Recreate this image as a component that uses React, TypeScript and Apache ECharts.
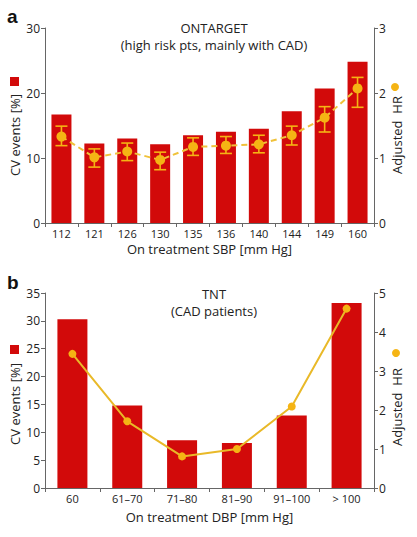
import React, { useEffect, useRef } from "react";
import * as echarts from "echarts";

// Panel a: ONTARGET
const sbpCategories = ["112", "121", "126", "130", "135", "136", "140", "144", "149", "160"];
const sbpEvents = [16.7, 12.25, 13.0, 12.1, 13.5, 14.05, 14.5, 17.2, 20.7, 24.8];
const sbpHR = [1.33, 1.01, 1.1, 0.97, 1.17, 1.19, 1.21, 1.35, 1.62, 2.07];
const sbpHRLow = [1.19, 0.86, 0.96, 0.82, 1.04, 1.07, 1.08, 1.2, 1.4, 1.78];
const sbpHRHigh = [1.49, 1.14, 1.23, 1.09, 1.31, 1.33, 1.35, 1.49, 1.79, 2.24];

// Panel b: TNT
const dbpCategories = ["60", "61\u201370", "71\u201380", "81\u201390", "91\u2013100", "> 100"];
const dbpEvents = [30.3, 14.8, 8.55, 8.08, 13.0, 33.2];
const dbpHR = [3.44, 1.71, 0.81, 1.0, 2.09, 4.6];

const FONT = "Open Sans";
const RED = "#d20a0a";
const GOLD = "#f5b414";
const GOLD_LINE = "#f0c23a";
const AXIS = "#666";
const TEXT = "#222";

export default function App() {
  const ref = useRef<HTMLDivElement>(null);
  useEffect(() => {
    document.body.style.margin = "0";
    const chart = echarts.init(ref.current!, undefined, { renderer: "svg" });
    const axisCommon = {
      axisLine: { show: true, lineStyle: { color: AXIS, width: 1 } },
      axisTick: { show: true, lineStyle: { color: AXIS }, length: 4 },
      splitLine: { show: false },
      axisLabel: { color: TEXT, fontFamily: FONT, fontSize: 12, margin: 5 },
      nameTextStyle: { color: TEXT, fontFamily: FONT, fontSize: 13 },
    };
    const vText = (text: string, x: number, y: number) => ({
      type: "text",
      x,
      y,
      rotation: Math.PI / 2,
      style: {
        text,
        fontFamily: FONT,
        fontSize: 13,
        fill: TEXT,
        align: "center",
        verticalAlign: "middle",
      },
    });
    const option: any = {
      animation: false,
      backgroundColor: "#fff",
      title: [
        {
          text: "ONTARGET\n(high risk pts, mainly with CAD)",
          left: 209,
          top: 14,
          textAlign: "center",
          textStyle: { fontFamily: FONT, fontWeight: "normal", fontSize: 13, color: TEXT, lineHeight: 17 },
        },
        {
          text: "TNT\n(CAD patients)",
          left: 209,
          top: 280,
          textAlign: "center",
          textStyle: { fontFamily: FONT, fontWeight: "normal", fontSize: 13, color: TEXT, lineHeight: 17 },
        },
      ],
      grid: [
        { left: 45, right: 43, top: 28, height: 195 },
        { left: 45, right: 43, top: 293, height: 195 },
      ],
      xAxis: [
        {
          ...axisCommon,
          type: "category",
          gridIndex: 0,
          data: sbpCategories,
          name: "On treatment SBP [mm Hg]",
          nameLocation: "middle",
          nameGap: 19,
          axisLabel: { ...axisCommon.axisLabel, fontSize: 11 },
        },
        {
          ...axisCommon,
          type: "category",
          gridIndex: 1,
          data: dbpCategories,
          name: "On treatment DBP [mm Hg]",
          nameLocation: "middle",
          nameGap: 22,
          axisLabel: { ...axisCommon.axisLabel, fontSize: 11 },
        },
      ],
      yAxis: [
        { ...axisCommon, type: "value", gridIndex: 0, min: 0, max: 30, interval: 10 },
        { ...axisCommon, type: "value", gridIndex: 0, position: "right", min: 0, max: 3, interval: 1 },
        { ...axisCommon, type: "value", gridIndex: 1, min: 0, max: 35, interval: 5 },
        { ...axisCommon, type: "value", gridIndex: 1, position: "right", min: 0, max: 5, interval: 1 },
      ],
      series: [
        {
          type: "bar",
          xAxisIndex: 0,
          yAxisIndex: 0,
          data: sbpEvents,
          barWidth: 20,
          itemStyle: { color: RED },
        },
        {
          type: "custom",
          xAxisIndex: 0,
          yAxisIndex: 1,
          z: 3,
          data: sbpCategories.map((_, i) => [i, sbpHRLow[i], sbpHRHigh[i]]),
          encode: { x: 0, y: [1, 2] },
          renderItem: (params: any, api: any) => {
            const x = api.value(0);
            const hi = api.coord([x, api.value(2)]);
            const lo = api.coord([x, api.value(1)]);
            const w = 6;
            const style = { stroke: GOLD, lineWidth: 1.6 };
            return {
              type: "group",
              children: [
                { type: "line", shape: { x1: hi[0], y1: hi[1], x2: lo[0], y2: lo[1] }, style },
                { type: "line", shape: { x1: hi[0] - w, y1: hi[1], x2: hi[0] + w, y2: hi[1] }, style },
                { type: "line", shape: { x1: lo[0] - w, y1: lo[1], x2: lo[0] + w, y2: lo[1] }, style },
              ],
            };
          },
        },
        {
          type: "line",
          xAxisIndex: 0,
          yAxisIndex: 1,
          z: 4,
          data: sbpHR,
          symbol: "circle",
          symbolSize: 10,
          lineStyle: { color: GOLD_LINE, width: 2, type: [6, 4] },
          itemStyle: { color: GOLD },
        },
        {
          type: "bar",
          xAxisIndex: 1,
          yAxisIndex: 2,
          data: dbpEvents,
          barWidth: 30,
          itemStyle: { color: RED },
        },
        {
          type: "line",
          xAxisIndex: 1,
          yAxisIndex: 3,
          z: 4,
          data: dbpHR,
          symbol: "circle",
          symbolSize: 8,
          lineStyle: { color: "#e9b928", width: 2 },
          itemStyle: { color: GOLD },
        },
      ],
      graphic: [
        { type: "text", left: 7, top: 7, style: { text: "a", font: "bold 19px 'Liberation Sans'", fill: "#111" } },
        { type: "text", left: 7, top: 273, style: { text: "b", font: "bold 19px 'Liberation Sans'", fill: "#111" } },
        { type: "rect", shape: { x: 10, y: 77, width: 9, height: 9 }, style: { fill: RED } },
        { type: "rect", shape: { x: 10, y: 345, width: 9, height: 9 }, style: { fill: RED } },
        { type: "circle", shape: { cx: 395, cy: 87, r: 4 }, style: { fill: GOLD } },
        { type: "circle", shape: { cx: 396, cy: 353, r: 4 }, style: { fill: GOLD } },
        vText("CV events [%]", 15, 135),
        vText("Adjusted  HR", 397, 135),
        vText("CV events [%]", 15, 404),
        vText("Adjusted  HR", 397, 407),
      ],
    };
    chart.setOption(option);
    return () => chart.dispose();
  }, []);
  return <div ref={ref} style={{ width: 417, height: 537 }} />;
}
